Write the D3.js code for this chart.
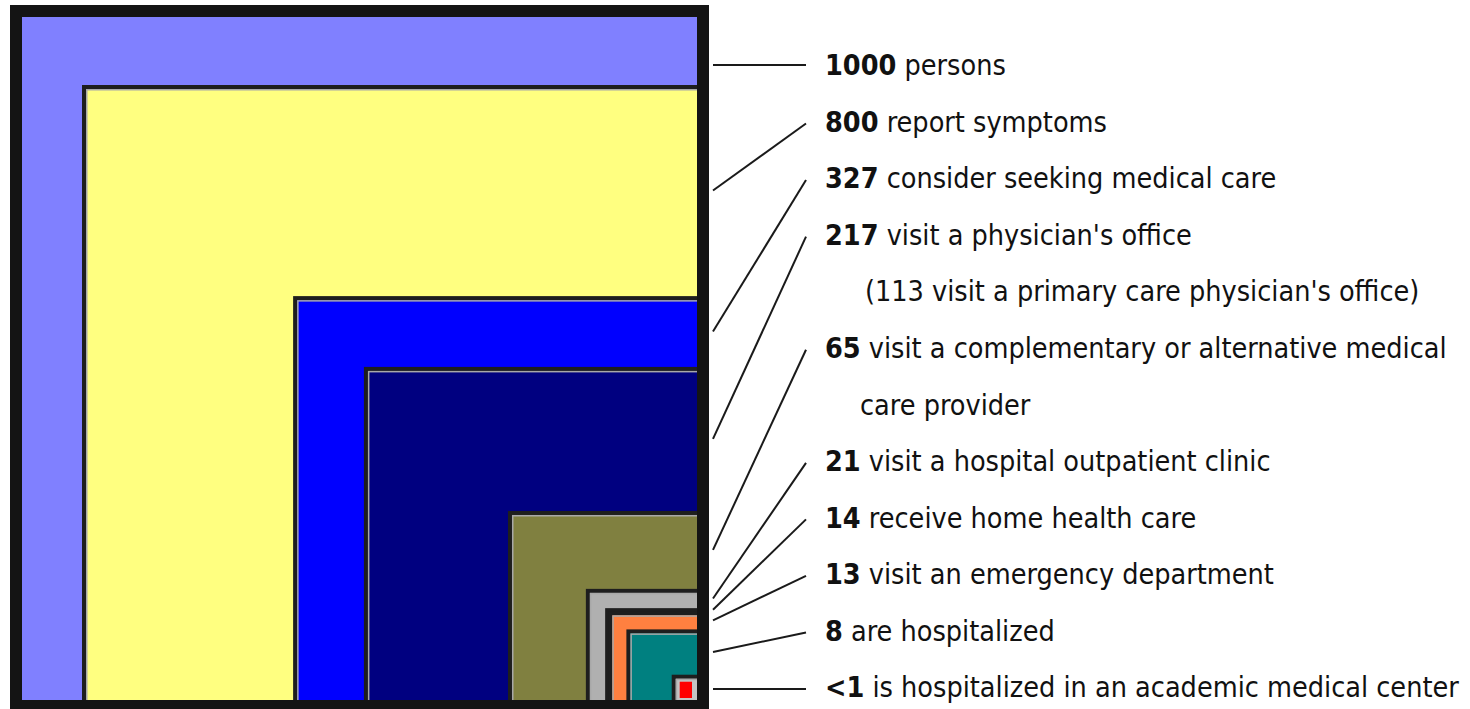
<!DOCTYPE html>
<html>
<head>
<meta charset="utf-8">
<script src="https://cdn.jsdelivr.net/npm/d3@7"></script>
<style>
  body { margin: 0; background: #fff; }
  svg { display: block; }
</style>
</head>
<body>
<svg></svg>
<script>
var values = [1000, 800, 327, 217, 65, 21, 14, 13, 8, 0.9];
var numLabels = ["1000", "800", "327", "217", "65", "21", "14", "13", "8", "<1"];
var descriptions = [
  "persons",
  "report symptoms",
  "consider seeking medical care",
  "visit a physician's office",
  "visit a complementary or alternative medical",
  "visit a hospital outpatient clinic",
  "receive home health care",
  "visit an emergency department",
  "are hospitalized",
  "is hospitalized in an academic medical center"
];
var extraLines = [null, null, null, "(113 visit a primary care physician's office)",
  "care provider", null, null, null, null, null];
var fills = ["#8080ff", "#ffff80", "#0000ff", "#000080", "#808040",
  "#b0b0b0", "#804000", "#ff8040", "#008080", "#ff0000"];

var width = 1470,
  height = 709;

// bottom-right corner every square hangs from
var cornerX = 697,
  cornerY = 700;

var svg = d3.select("svg").attr("width", width).attr("height", height);

var side = d3.scalePow().exponent(0.47).domain([0, 1000]).range([0, 683]);

var boxes = svg.append("g");

values.forEach(function (v, i) {
  var s = side(v);
  var last = i === values.length - 1;
  if (i === 0) {
    boxes.append("rect")
      .attr("x", cornerX - s).attr("y", cornerY - s)
      .attr("width", s).attr("height", s)
      .attr("fill", fills[i]);
    return;
  }
  boxes.append("rect")
    .attr("x", cornerX - s + 2).attr("y", cornerY - s + 2)
    .attr("width", s).attr("height", s)
    .attr("fill", last ? "#c4c4c4" : fills[i])
    .attr("stroke", "#1e1e1e")
    .attr("stroke-width", 4);
  boxes.append("rect")
    .attr("x", cornerX - s + 4.75).attr("y", cornerY - s + 4.75)
    .attr("width", s).attr("height", s)
    .attr("fill", "none")
    .attr("stroke", "#a8a8a8")
    .attr("stroke-width", 1.5);
  if (last) {
    boxes.append("rect")
      .attr("x", cornerX - s + 8).attr("y", cornerY - s + 7)
      .attr("width", s - 13).attr("height", s - 9)
      .attr("fill", fills[i]);
  }
});

// heavy frame
svg.append("rect")
  .attr("x", 16).attr("y", 11)
  .attr("width", cornerX + 6 - 16).attr("height", cornerY + 6 - 11)
  .attr("fill", "none")
  .attr("stroke", "#141414")
  .attr("stroke-width", 12);

// rows of text
var rowIndex = [];
var r = 0;
values.forEach(function (v, i) {
  rowIndex.push(r);
  r += extraLines[i] ? 2 : 1;
});
var rowY = d3.scaleLinear().domain([0, r - 1]).range([65, 687]);

var labels = svg.append("g")
  .attr("font-family", "'DejaVu Sans Condensed', 'DejaVu Sans', sans-serif")
  .attr("font-size", "28.5px")
  .attr("fill", "#111");

values.forEach(function (v, i) {
  var y = rowY(rowIndex[i]);
  var t = labels.append("text")
    .attr("x", 825)
    .attr("y", y)
    .attr("dy", "0.36em");
  t.append("tspan").attr("font-weight", "bold").text(numLabels[i]);
  t.append("tspan").text(" " + descriptions[i]);
  if (extraLines[i]) {
    labels.append("text")
      .attr("x", i === 3 ? 865 : 860)
      .attr("y", rowY(rowIndex[i] + 1))
      .attr("dy", "0.36em")
      .text(extraLines[i]);
  }

  // leader line to the middle of this band on the right edge
  var top = cornerY - side(v);
  var nextTop = i < values.length - 1 ? cornerY - side(values[i + 1]) : cornerY;
  var bandY = (top + nextTop) / 2;
  if (i === 0) bandY = y;
  if (i === values.length - 1) bandY = y + 2;
  svg.append("line")
    .attr("x1", 713).attr("y1", bandY)
    .attr("x2", 806).attr("y2", i === 0 || i === values.length - 1 ? bandY : y + 2)
    .attr("stroke", "#1a1a1a")
    .attr("stroke-width", 2);
});
</script>
</body>
</html>
